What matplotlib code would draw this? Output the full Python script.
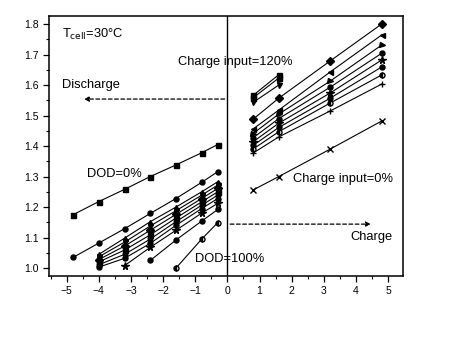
import matplotlib
matplotlib.use('Agg')
import matplotlib.pyplot as plt
from matplotlib.ticker import MultipleLocator

plt.rcParams['font.family'] = ['Liberation Sans', 'DejaVu Sans']

# discharge side (negative current)
dis_x = [-4.8, -4.0, -3.2, -2.4, -1.6, -0.8, -0.3]
dis_dod0 = [1.175, 1.218, 1.258, 1.300, 1.338, 1.378, 1.405]
dis_s2 = [1.035, 1.082, 1.129, 1.179, 1.228, 1.281, 1.316]

bun_x = [-4.0, -3.2, -2.4, -1.6, -0.8, -0.3]
bun_1 = [1.045, 1.098, 1.152, 1.200, 1.250, 1.283]
bun_2 = [1.037, 1.085, 1.138, 1.188, 1.239, 1.272]
bun_3 = [1.028, 1.072, 1.124, 1.176, 1.228, 1.261]
bun_4 = [1.020, 1.059, 1.109, 1.164, 1.217, 1.250]
bun_5 = [1.011, 1.045, 1.095, 1.152, 1.206, 1.239]
bun_6 = [1.003, 1.032, 1.081, 1.140, 1.195, 1.228]

star_x = [-3.2, -2.4, -1.6, -0.8, -0.3]
star_y = [1.008, 1.068, 1.124, 1.180, 1.212]
circ_x = [-2.4, -1.6, -0.8, -0.3]
circ_y = [1.025, 1.092, 1.154, 1.192]
dod100_x = [-1.6, -0.8, -0.3]
dod100_y = [1.000, 1.095, 1.149]

# charge side
chg_x = [0.8, 1.6, 3.2, 4.8]
short_x = [0.8, 1.6]
sq_a = [1.566, 1.634]
sq_b = [1.558, 1.623]
tri_dn = [1.543, 1.600]
ch_diam = [1.488, 1.557, 1.679, 1.800]
ch_ltri = [1.456, 1.518, 1.643, 1.764]
ch_rtri = [1.441, 1.505, 1.613, 1.731]
ch_circ = [1.427, 1.490, 1.593, 1.704]
ch_star = [1.414, 1.475, 1.574, 1.682]
ch_circ2 = [1.402, 1.461, 1.557, 1.659]
ch_half = [1.390, 1.447, 1.541, 1.633]
ch_plus = [1.377, 1.430, 1.515, 1.603]
ch_zero = [1.256, 1.300, 1.390, 1.482]

fig = plt.figure(figsize=(4.5, 3.62), dpi=100)
ax = fig.add_axes([0.109, 0.2376, 0.787, 0.718])

kw = dict(color='black', lw=0.8, ms=3.6, mfc='black', mec='black')
half = dict(color='black', lw=0.8, ms=3.6, mfc='black', mec='black',
            mfcalt='white', fillstyle='left')
star = dict(color='black', lw=0.8, ms=5.5, mfc='black', mec='black')

ax.plot(dis_x, dis_dod0, marker='s', **kw)
ax.plot(dis_x, dis_s2, marker='o', **kw)
for ys, m in zip([bun_1, bun_2, bun_3, bun_4, bun_5, bun_6],
                 ['^', 'v', 'D', 's', 'h', 'o']):
    ax.plot(bun_x, ys, marker=m, **kw)
ax.plot(star_x, star_y, marker='*', **star)
ax.plot(circ_x, circ_y, marker='o', **kw)
ax.plot(dod100_x, dod100_y, marker='o', **half)

ax.plot(short_x, sq_a, marker='s', **kw)
ax.plot(short_x, sq_b, marker='s', **kw)
ax.plot(short_x, tri_dn, marker='v', **kw)
ax.plot(chg_x, ch_diam, marker='D', **kw)
ax.plot(chg_x, ch_ltri, marker='<', **kw)
ax.plot(chg_x, ch_rtri, marker='>', **kw)
ax.plot(chg_x, ch_circ, marker='o', **kw)
ax.plot(chg_x, ch_star, marker='*', **star)
ax.plot(chg_x, ch_circ2, marker='o', **kw)
ax.plot(chg_x, ch_half, marker='o', **half)
ax.plot(chg_x, ch_plus, marker='+', color='black', lw=0.8, ms=5)
ax.plot(chg_x, ch_zero, marker='x', color='black', lw=0.8, ms=5)

ax.axvline(0, color='black', lw=1.0)

# dashed arrows
ax.annotate('', xy=(-4.55, 1.554), xytext=(0, 1.554),
            arrowprops=dict(arrowstyle='-|>', linestyle=(0, (3, 2)), color='black',
                            lw=0.9, mutation_scale=7))
ax.annotate('', xy=(4.55, 1.144), xytext=(0, 1.144),
            arrowprops=dict(arrowstyle='-|>', linestyle=(0, (3, 2)), color='black',
                            lw=0.9, mutation_scale=7))

fs = 9.3
ax.text(-5.15, 1.755, r'T$_{\rm cell}$=30°C', fontsize=fs)
ax.text(-5.15, 1.59, 'Discharge', fontsize=fs)
ax.text(-1.55, 1.665, 'Charge input=120%', fontsize=fs)
ax.text(-4.38, 1.298, 'DOD=0%', fontsize=fs)
ax.text(-1.0, 1.02, 'DOD=100%', fontsize=fs)
ax.text(2.05, 1.283, 'Charge input=0%', fontsize=fs)
ax.text(3.82, 1.093, 'Charge', fontsize=fs)

ax.set_xlim(-5.55, 5.47)
ax.set_ylim(0.974, 1.826)
ax.xaxis.set_major_locator(MultipleLocator(1))
ax.xaxis.set_minor_locator(MultipleLocator(0.5))
ax.yaxis.set_major_locator(MultipleLocator(0.1))
ax.yaxis.set_minor_locator(MultipleLocator(0.05))
ax.tick_params(which='major', direction='out', length=4, width=0.9, labelsize=7.5)
ax.tick_params(which='minor', direction='out', length=2, width=0.8)
for s in ax.spines.values():
    s.set_linewidth(1.1)

fig.savefig('out.png', dpi=100)
